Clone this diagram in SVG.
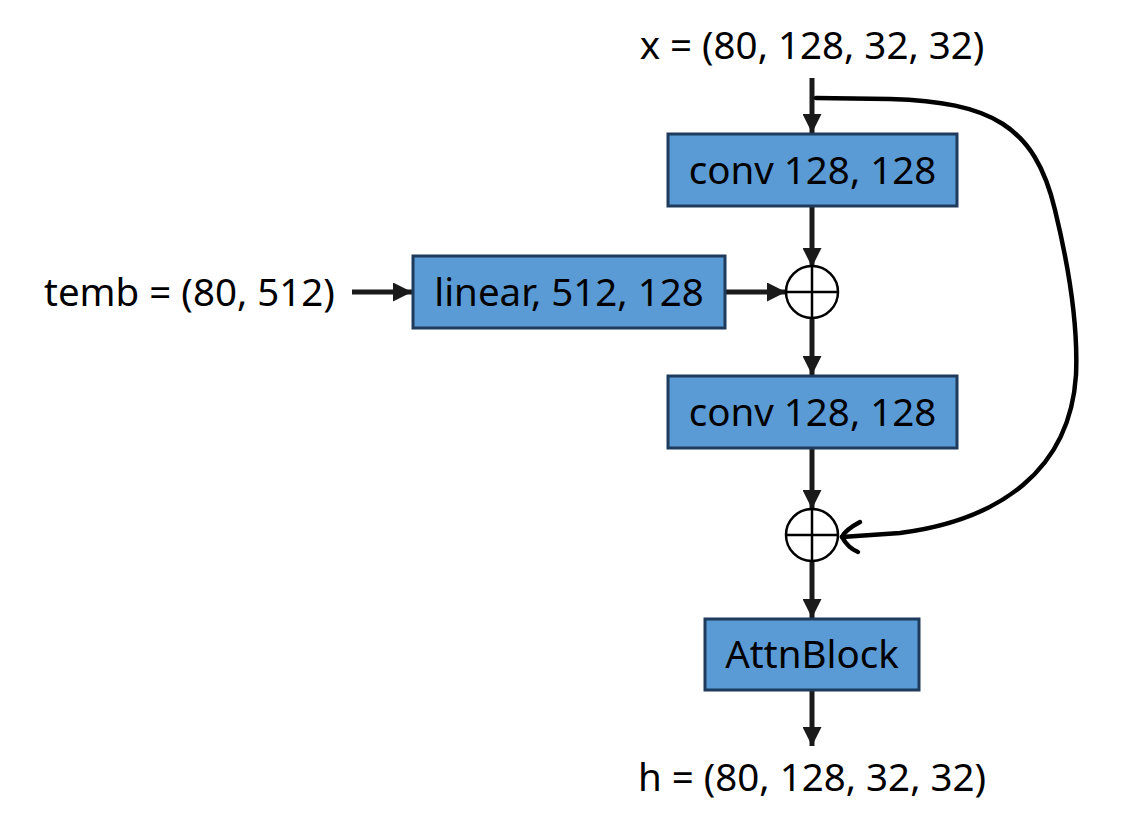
<svg xmlns="http://www.w3.org/2000/svg" width="1122" height="828" viewBox="0 0 1122 828">
<defs>
<style>
.box{fill:#5b9bd5;stroke:#1f3b5c;stroke-width:3}
.t{font-family:"Noto Sans","Open Sans",sans-serif;font-size:38.5px;fill:#000}
.ln{stroke:#1a1a1a;stroke-width:5;fill:none}
.sum{fill:#fff;stroke:#000;stroke-width:2.5}
</style>
<marker id="ah" viewBox="0 0 10 10" refX="10" refY="5" markerWidth="4" markerHeight="3.8" orient="auto" markerUnits="strokeWidth">
<path d="M0,0 L10,5 L0,10 Z" fill="#1a1a1a"/>
</marker>
</defs>
<rect width="1122" height="828" fill="#fff"/>
<g id="connectors">
<line class="ln" x1="812" y1="78" x2="812" y2="133" marker-end="url(#ah)"/>
<line class="ln" x1="812" y1="206" x2="812" y2="267" marker-end="url(#ah)"/>
<line class="ln" x1="352" y1="292" x2="412" y2="292" marker-end="url(#ah)"/>
<line class="ln" x1="725" y1="292" x2="786" y2="292" marker-end="url(#ah)"/>
<line class="ln" x1="812" y1="318" x2="812" y2="375" marker-end="url(#ah)"/>
<line class="ln" x1="812" y1="448" x2="812" y2="509" marker-end="url(#ah)"/>
<line class="ln" x1="812" y1="561" x2="812" y2="618" marker-end="url(#ah)"/>
<line class="ln" x1="812" y1="690" x2="812" y2="746" marker-end="url(#ah)"/>
<path d="M816 98 L890 99 C990 102 1035 125 1055 210 C1072 280 1078 330 1076 375 C1070 470 1000 520 900 533 L842 537" fill="none" stroke="#000" stroke-width="4.5" stroke-linecap="round" stroke-linejoin="round"/>
<path d="M860 522 Q845 530 842 537 Q848 548 858 552" fill="none" stroke="#000" stroke-width="4.5" stroke-linecap="round"/>
</g>
<g id="x-label"><text class="t" x="812" y="59" text-anchor="middle">x = (80, 128, 32, 32)</text></g>
<g id="conv1"><rect class="box" x="668" y="134" width="289" height="72"/><text class="t" x="812.5" y="184" text-anchor="middle">conv 128, 128</text></g>
<g id="temb-label"><text class="t" x="44" y="306">temb = (80, 512)</text></g>
<g id="linear"><rect class="box" x="413" y="256" width="312" height="72"/><text class="t" x="569" y="306" text-anchor="middle">linear, 512, 128</text></g>
<g id="sum1"><circle class="sum" cx="812" cy="292" r="26"/><line x1="786" y1="292" x2="838" y2="292" stroke="#000" stroke-width="2.5"/><line x1="812" y1="266" x2="812" y2="318" stroke="#000" stroke-width="2.5"/></g>
<g id="conv2"><rect class="box" x="668" y="376" width="289" height="72"/><text class="t" x="812.5" y="426" text-anchor="middle">conv 128, 128</text></g>
<g id="sum2"><circle class="sum" cx="812" cy="535" r="26"/><line x1="786" y1="535" x2="838" y2="535" stroke="#000" stroke-width="2.5"/><line x1="812" y1="509" x2="812" y2="561" stroke="#000" stroke-width="2.5"/></g>
<g id="attn"><rect class="box" x="705" y="619" width="214" height="71"/><text class="t" x="812" y="668" text-anchor="middle">AttnBlock</text></g>
<g id="h-label"><text class="t" x="812" y="791" text-anchor="middle">h = (80, 128, 32, 32)</text></g>
</svg>
